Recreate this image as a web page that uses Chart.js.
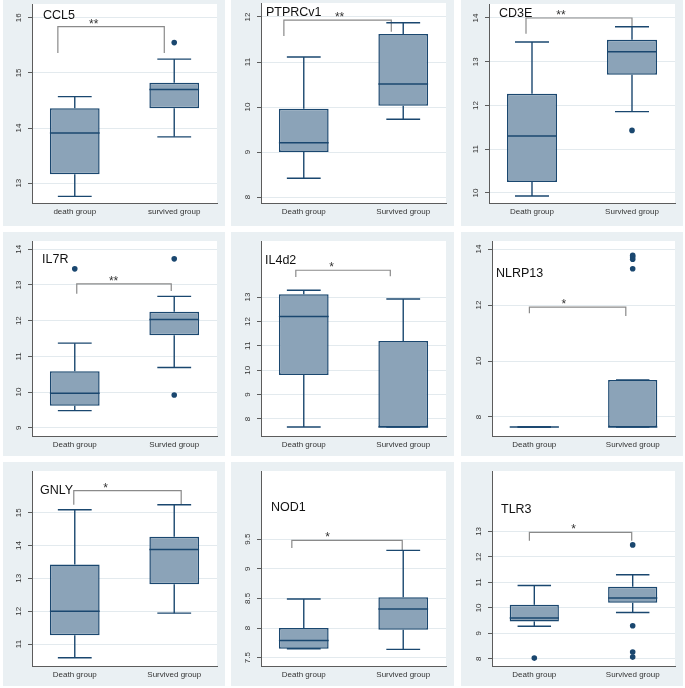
<!DOCTYPE html>
<html><head><meta charset="utf-8">
<script src="https://cdn.jsdelivr.net/npm/chart.js@4.4.0/dist/chart.umd.min.js"></script>
<style>
html,body{margin:0;padding:0;background:#fff;}
#wrap{position:relative;width:685px;height:688px;overflow:hidden;background:#fff;}
.panel{position:absolute;background:#eaf0f3;}
.panel canvas{display:block;}
</style></head><body><div id="wrap"></div>
<script>
// ---------- data ----------
const genes = ['CCL5','PTPRCv1','CD3E','IL7R','IL4d2','NLRP13','GNLY','NOD1','TLR3'];
const groupLabels = [
  ['death group','survived group'],
  ['Death group','Survived group'],
  ['Death group','Survived group'],
  ['Death group','Survied group'],
  ['Death group','Survived group'],
  ['Death group','Survived group'],
  ['Death group','Survived group'],
  ['Death group','Survived group'],
  ['Death group','Survived group']
];
// [lower whisker, Q1, median, Q3, upper whisker]
const deathStats = [
  [12.76,13.16,13.91,14.36,14.57],
  [8.42,9.0,9.21,9.96,11.11],
  [9.93,10.25,11.3,12.27,13.45],
  [9.48,9.62,9.97,10.58,11.37],
  [7.67,9.8,12.2,13.12,13.28],
  [7.64,7.64,7.64,7.64,7.64],
  [10.58,11.27,12.0,13.42,15.09],
  [7.65,7.65,7.79,8.0,8.49],
  [9.28,9.47,9.6,10.12,10.88]
];
const survivedStats = [
  [13.84,14.36,14.7,14.82,15.25],
  [9.73,10.03,10.51,11.62,11.87],
  [11.86,12.7,13.23,13.5,13.8],
  [10.69,11.59,12.03,12.25,12.68],
  [7.67,7.67,7.67,11.2,12.92],
  [7.64,7.64,7.64,9.32,9.32],
  [11.94,12.82,13.88,14.27,15.24],
  [7.64,7.97,8.32,8.52,9.31],
  [9.82,10.2,10.39,10.83,11.3]
];
const deathOutliers = [[],[],[],[13.45],[],[],[],[],[8.03]];
const survivedOutliers = [[15.55],[],[11.43],[9.92,13.73],[],[13.78,13.72,13.64,13.3],[],[],[12.47,9.3,8.27,8.07]];
const significance = ['**','**','**','**','*','*','*','*','*'];
const bracketTop = [15.84,11.93,14.0,13.03,14.1,11.93,15.67,9.48,12.96];
const bracketLegEnds = [[15.36,15.36],[11.58,11.67],[13.64,13.8],[12.75,12.83],[13.82,13.85],[11.71,11.61],[15.24,15.24],[9.35,9.31],[12.63,12.63]];
const bracketX = [[0.83,1.9],[0.8,1.88],[0.94,2.0],[1.02,1.97],[0.92,1.87],[0.95,1.93],[0.99,2.07],[0.88,1.99],[0.95,1.99]];
const starX = [1.19,1.36,1.29,1.39,1.28,1.30,1.31,1.24,1.40];
const yMin = [12.64,7.87,9.77,8.77,7.3,7.32,10.33,7.36,7.72];
const yMax = [16.25,12.31,14.32,14.23,15.3,14.29,16.27,10.65,15.37];
const yTicks = [
  [13,14,15,16],[8,9,10,11,12],[10,11,12,13,14],[9,10,11,12,13,14],
  [8,9,10,11,12,13],[8,10,12,14],[11,12,13,14,15],[7.5,8,8.5,9,9.5],[8,9,10,11,12,13]
];

// ---------- layout / style ----------
const colLeft = [3,231,461], colWidth = [222,223,222];
const rowTop = [0,232,462], rowHeight = [226,224,224];
const padTop = [3,9,9], xAxisH = [23,20,20];
const yAxisW = [29,30,28,29,30,31,29,30,31];
const padRight = 8;
const titleOffset = [[11,12],[5,10],[10,10],[10,19],[4,20],[4,33],[8,20],[10,37],[9,39]];
const xRange = [0.57,2.43];
const boxHalf = 0.25, capHalf = 0.17;
const navy = '#1a476f', boxFill = '#8ba3b8', axisColor = '#5c5c5c', gridColor = '#e3eaee', bracketColor = '#8a8a8a';
const FONT = '"Liberation Sans", Arial, sans-serif';

const plotBg = {
  id: 'plotBg',
  beforeDraw(chart) {
    const {ctx, chartArea: a} = chart;
    ctx.save(); ctx.fillStyle = '#ffffff';
    ctx.fillRect(a.left, a.top, a.right - a.left, a.bottom - a.top);
    ctx.restore();
  }
};

function build(i) {
  const r = Math.floor(i / 3), c = i % 3;
  const w = colWidth[c], h = rowHeight[r];
  const div = document.createElement('div');
  div.className = 'panel';
  div.style.left = colLeft[c] + 'px'; div.style.top = rowTop[r] + 'px';
  div.style.width = w + 'px'; div.style.height = h + 'px';
  const cv = document.createElement('canvas');
  cv.width = w; cv.height = h; cv.style.width = w + 'px'; cv.style.height = h + 'px';
  div.appendChild(cv);
  document.getElementById('wrap').appendChild(div);

  const stats = [deathStats[i], survivedStats[i]];
  const datasets = [];
  datasets.push({
    type: 'bar',
    data: stats.map((st, k) => ({x: k + 1, y: [st[1], st[3]]})),
    backgroundColor: boxFill, borderColor: navy, borderWidth: 1.5, borderSkipped: false,
    categoryPercentage: 1, barPercentage: 2 * boxHalf, order: 3
  });
  const seg = (pts, color, width) => datasets.push({
    type: 'line', data: pts, borderColor: color, borderWidth: width, pointRadius: 0,
    fill: false, tension: 0, order: 1, clip: false
  });
  stats.forEach((st, k) => {
    const x = k + 1;
    seg([{x, y: st[0]}, {x, y: st[1]}], navy, 1.4);
    seg([{x, y: st[3]}, {x, y: st[4]}], navy, 1.4);
    seg([{x: x - capHalf, y: st[0]}, {x: x + capHalf, y: st[0]}], navy, 1.4);
    seg([{x: x - capHalf, y: st[4]}, {x: x + capHalf, y: st[4]}], navy, 1.4);
    seg([{x: x - boxHalf, y: st[2]}, {x: x + boxHalf, y: st[2]}], navy, 1.5);
  });
  const bx = bracketX[i], bl = bracketLegEnds[i], bt = bracketTop[i];
  seg([{x: bx[0], y: bl[0]}, {x: bx[0], y: bt}, {x: bx[1], y: bt}, {x: bx[1], y: bl[1]}], bracketColor, 1.2);
  const outl = deathOutliers[i].map(v => ({x: 1, y: v})).concat(survivedOutliers[i].map(v => ({x: 2, y: v})));
  datasets.push({type: 'scatter', data: outl, pointRadius: 2.8, pointBackgroundColor: navy,
    pointBorderWidth: 0, backgroundColor: navy, borderColor: navy, order: 0});

  const textPlugin = {
    id: 'texts',
    afterDatasetsDraw(chart) {
      const {ctx, chartArea: a} = chart;
      const ys = chart.scales.y, xs = chart.scales.x;
      ctx.save();
      ctx.fillStyle = '#333333';
      ctx.font = '8px ' + FONT;
      yTicks[i].forEach(v => {
        const py = ys.getPixelForValue(v);
        ctx.save();
        ctx.translate(a.left - 11, py);
        ctx.rotate(-Math.PI / 2);
        ctx.textAlign = 'center'; ctx.textBaseline = 'alphabetic';
        ctx.fillText(String(v), 0, 0);
        ctx.restore();
      });
      ctx.font = '12px ' + FONT;
      ctx.textAlign = 'center'; ctx.textBaseline = 'alphabetic';
      ctx.fillText(significance[i], xs.getPixelForValue(starX[i]), ys.getPixelForValue(bracketTop[i]) + 1);
      ctx.fillStyle = '#111111';
      ctx.font = '12.5px ' + FONT;
      ctx.textAlign = 'left'; ctx.textBaseline = 'middle';
      ctx.fillText(genes[i], a.left + titleOffset[i][0], a.top + titleOffset[i][1]);
      ctx.restore();
    }
  };

  new Chart(cv, {
    type: 'scatter',
    data: {datasets},
    options: {
      responsive: false, animation: false, devicePixelRatio: 1,
      layout: {padding: {left: 0, top: padTop[r], right: padRight, bottom: 0}},
      plugins: {legend: {display: false}, tooltip: {enabled: false}},
      scales: {
        x: {
          type: 'linear', min: xRange[0], max: xRange[1], offset: false,
          afterBuildTicks: s => { s.ticks = [{value: 1}, {value: 2}]; },
          afterFit: s => { s.height = xAxisH[r]; },
          ticks: {autoSkip: false, maxRotation: 0, minRotation: 0, padding: 4, color: '#333333',
            font: {family: FONT, size: 8},
            callback: (v, idx) => groupLabels[i][idx]},
          grid: {display: false, drawTicks: false},
          border: {display: true, color: axisColor, width: 1}
        },
        y: {
          type: 'linear', min: yMin[i], max: yMax[i],
          afterBuildTicks: s => { s.ticks = yTicks[i].map(v => ({value: v})); },
          afterFit: s => { s.width = yAxisW[i]; },
          ticks: {display: false},
          grid: {color: gridColor, lineWidth: 1, drawTicks: true, tickLength: 4, tickColor: axisColor},
          border: {display: true, color: axisColor, width: 1}
        }
      }
    },
    plugins: [plotBg, textPlugin]
  });
}
for (let i = 0; i < 9; i++) build(i);
</script>
</body></html>
